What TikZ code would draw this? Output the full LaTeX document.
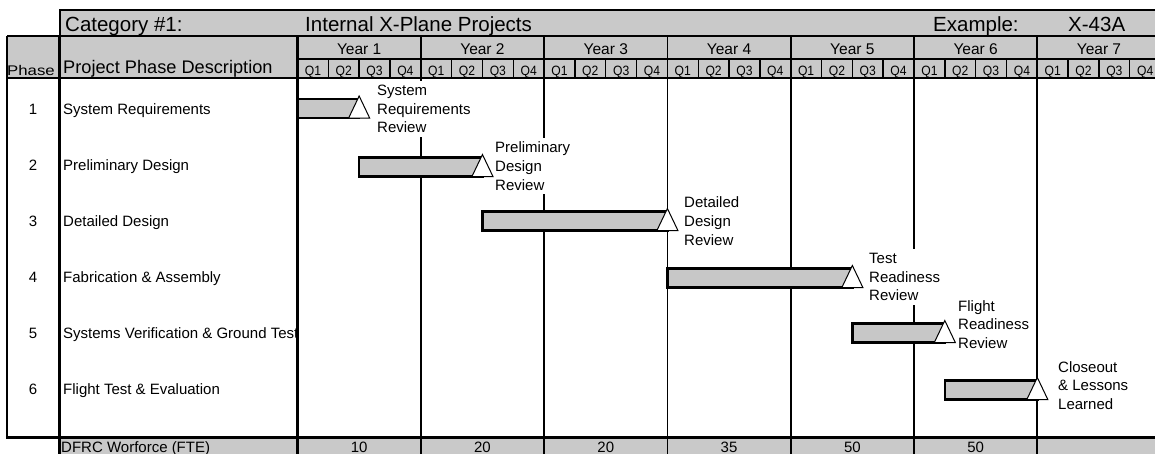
\documentclass[tikz,border=0pt]{standalone}
\usepackage{fontspec}
\setmainfont{Liberation Sans}
\begin{document}
\begin{tikzpicture}[x=1pt,y=-1pt,
  shadefill/.style={fill=black!21},
  border/.style={line width=2.4pt},
  heavy/.style={line width=3pt},
  yearline/.style={line width=1.8pt},
  qline/.style={line width=1.4pt},
  bar/.style={fill=black!22,draw=black,line width=2.6pt},
  milestone/.style={fill=white,draw=black,line width=1pt,line join=miter},
  lbl/.style={fill=white,align=left,inner xsep=1.5pt,inner ysep=4pt,anchor=west,font=\fontsize{15}{18.8}\selectfont},
  body/.style={inner sep=0pt,font=\fontsize{15}{18}\selectfont},
  titletext/.style={inner sep=0pt,anchor=base west,font=\fontsize{20.5}{24}\selectfont},
  yeartext/.style={inner sep=0pt,anchor=base,font=\fontsize{15.5}{18}\selectfont},
  qtext/.style={inner sep=0pt,anchor=base,font=\fontsize{13.5}{16}\selectfont},
  fte/.style={inner sep=0pt,anchor=base,font=\fontsize{15}{18}\selectfont}]
\def\Xo{297.5}
\def\W{123.3}
\def\Q{30.825}
\useasboundingbox (0,0) rectangle (1155,453);
\fill[white] (0,0) rectangle (1155,453);
\clip (0,0) rectangle (1155,453);
% shaded areas
\fill[shadefill] (60,10) rectangle (1165,36);
\fill[shadefill] (7,36) rectangle (1165,78);
\fill[shadefill] (59,437) rectangle (1165,460);
% year lines in body and bottom row
\foreach \i in {1,...,7}{
  \draw[yearline] ({\Xo+\i*\W},78) -- ({\Xo+\i*\W},460);
}
% milestone labels (white boxes hide grid lines)
\node[lbl] (l1) at (375.5,109) {System\\Requirements\\Review};
\node[lbl] (l2) at (493.5,166) {Preliminary\\Design\\Review};
\node[lbl] (l3) at (682.5,221) {Detailed\\Design\\Review};
\node[lbl] (l4) at (867.5,277) {Test\\Readiness\\Review};
\node[lbl] (l5) at (956.5,324.5) {Flight\\Readiness\\Review};
\node[lbl] (l6) at (1056.5,385.5) {Closeout\\\& Lessons\\Learned};
% bars and milestones
\foreach \s/\e/\c in {297.5/359.15/108.5, 359.15/482.45/167, 482.45/667.4/221, 667.4/852.35/278, 852.35/944.8/333, 944.8/1037.3/390}{
  \draw[bar] (\s,\c-9.5) rectangle (\e,\c+9.5);
  \draw[milestone] (\e,\c-12.5) -- (\e+10.5,\c+9.5) -- (\e-10.5,\c+9.5) -- cycle;
}
% header grid
\draw[qline] (\Xo,59) -- (1165,59);
\foreach \i in {0,...,6}{
  \draw[yearline] ({\Xo+\i*\W},36) -- ({\Xo+\i*\W},78);
  \foreach \k in {1,2,3}{
    \draw[qline] ({\Xo+\i*\W+\k*\Q},59) -- ({\Xo+\i*\W+\k*\Q},78);
  }
}
% borders
\draw[border] (60,36) -- (60,10) -- (1165,10);
\draw[border] (7,36) -- (1165,36);
\draw[border] (7,78) -- (1165,78);
\draw[border] (7,36) -- (7,437);
\draw[heavy] (5.8,437) -- (1165,437);
\draw[heavy] (59,36) -- (59,460);
\draw[heavy] (297.5,36) -- (297.5,460);
% title texts
\node[titletext] (cat) at (65,31) {Category \#1:};
\node[titletext] (proj) at (305,31) {Internal X-Plane Projects};
\node[titletext] (ex) at (933,31) {Example:};
\node[titletext] (x43) at (1068,31) {X-43A};
% column headers
\node[inner sep=0pt,font=\fontsize{14}{16}\selectfont] (ph) at (31,70) {\scalebox{1.2}[1]{Phase}};
\node[inner sep=0pt,anchor=west,font=\fontsize{18.2}{21}\selectfont] (ppd) at (63,68.5) {Project Phase Description};
\foreach \i in {1,...,7}{
  \node[yeartext] (y\i) at ({\Xo+(\i-0.5)*\W},54.5) {Year \i};
  \foreach \k in {1,...,4}{
    \node[qtext] (q\i\k) at ({\Xo+(\i-1)*\W+(\k-0.5)*\Q},75) {\scalebox{0.9}[1]{Q\k}};
  }
}
% rows
\foreach \n/\t [count=\r from 0] in {1/System Requirements, 2/Preliminary Design, 3/Detailed Design, 4/Fabrication \& Assembly, 5/Systems Verification \& Ground Test, 6/Flight Test \& Evaluation}{
  \node[body,anchor=base] (n\n) at (33,114+56*\r) {\n};
  \node[body,anchor=base west] (d\n) at (63,114+56*\r) {\t};
}
% bottom row
\node[fte,anchor=base west] (fte) at (61,452) {DFRC Worforce (FTE)};
\foreach \v [count=\i] in {10,20,20,35,50,50}{
  \node[fte] (v\i) at ({\Xo+(\i-0.5)*\W},452) {\v};
}
\end{tikzpicture}
\end{document}
